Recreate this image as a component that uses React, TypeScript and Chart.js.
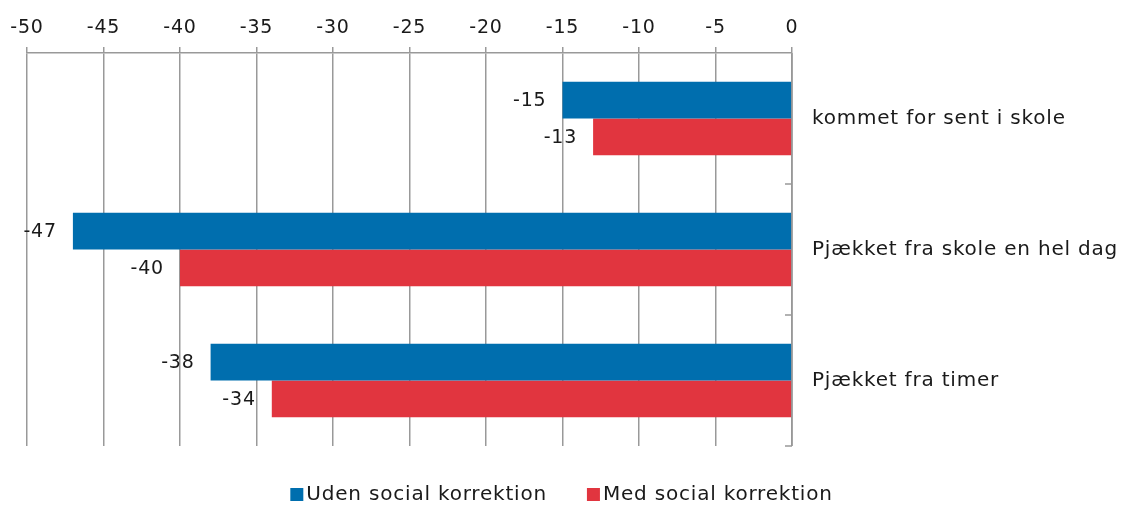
import React, { useEffect, useRef } from "react";
import { Chart, registerables } from "chart.js";

Chart.register(...registerables);

const categories = ["kommet for sent i skole", "Pjækket fra skole en hel dag", "Pjækket fra timer"];
const udenValues = [-15, -47, -38];
const medValues = [-13, -40, -34];
const seriesNames = ["Uden social korrektion", "Med social korrektion"];
const seriesColors = ["#006EAE", "#E1353F"];
const xMin = -50;
const xMax = 0;
const xStep = 5;

const FONT = "'DejaVu Sans', Verdana, sans-serif";
const SPACING = "0.8px";

const spacingPlugin = {
  id: "spacing",
  beforeUpdate(chart: any) {
    (chart.ctx as any).letterSpacing = SPACING;
  },
  beforeLayout(chart: any) {
    (chart.ctx as any).letterSpacing = SPACING;
  },
  beforeDraw(chart: any) {
    (chart.ctx as any).letterSpacing = SPACING;
  },
};

const valueLabels = {
  id: "valueLabels",
  afterDatasetsDraw(chart: any) {
    const ctx = chart.ctx;
    ctx.save();
    (ctx as any).letterSpacing = SPACING;
    ctx.font = `19px ${FONT}`;
    ctx.fillStyle = "#1a1a1a";
    ctx.textAlign = "right";
    ctx.textBaseline = "middle";
    chart.data.datasets.forEach((ds: any, di: number) => {
      const meta = chart.getDatasetMeta(di);
      meta.data.forEach((bar: any, i: number) => {
        ctx.fillText(String(ds.data[i]), bar.x - 16, bar.y + 1);
      });
    });
    ctx.restore();
  },
};

const catTicks = {
  id: "catTicks",
  afterDraw(chart: any) {
    const ctx = chart.ctx;
    const area = chart.chartArea;
    const n = categories.length;
    const h = (area.bottom - area.top) / n;
    ctx.save();
    ctx.strokeStyle = "#999999";
    ctx.lineWidth = 1.5;
    for (let i = 1; i <= n; i++) {
      const py = Math.round(area.top + h * i);
      ctx.beginPath();
      ctx.moveTo(area.right - 7, py);
      ctx.lineTo(area.right, py);
      ctx.stroke();
    }
    ctx.beginPath();
    ctx.moveTo(area.right, area.top);
    ctx.lineTo(area.right, area.bottom);
    ctx.stroke();
    ctx.restore();
  },
};

const customLegend = {
  id: "customLegend",
  afterDraw(chart: any) {
    const ctx = chart.ctx;
    ctx.save();
    (ctx as any).letterSpacing = SPACING;
    ctx.font = `20px ${FONT}`;
    ctx.textBaseline = "middle";
    ctx.textAlign = "left";
    const box = 13;
    const gap = 3;
    const itemGap = 40;
    const widths = chart.data.datasets.map((ds: any) => ctx.measureText(ds.label).width);
    const total = widths.reduce((a: number, w: number) => a + box + gap + w, 0) + itemGap * (widths.length - 1);
    let x = (chart.width - total) / 2;
    const cy = 495;
    chart.data.datasets.forEach((ds: any, i: number) => {
      ctx.fillStyle = ds.backgroundColor;
      ctx.fillRect(x, cy - 7, box, box);
      ctx.fillStyle = "#1a1a1a";
      ctx.fillText(ds.label, x + box + gap, cy);
      x += box + gap + widths[i] + itemGap;
    });
    ctx.restore();
  },
};

export default function App() {
  const ref = useRef<HTMLCanvasElement>(null);
  useEffect(() => {
    document.body.style.margin = "0";
    const chart = new Chart(ref.current!, {
      type: "bar",
      data: {
        labels: categories,
        datasets: [
          { label: seriesNames[0], data: udenValues, backgroundColor: seriesColors[0] },
          { label: seriesNames[1], data: medValues, backgroundColor: seriesColors[1] },
        ],
      },
      options: {
        indexAxis: "y",
        animation: false,
        responsive: false,
        maintainAspectRatio: false,
        layout: { padding: { left: 27, right: 0, top: 8, bottom: 59 } },
        datasets: { bar: { categoryPercentage: 0.56, barPercentage: 1 } },
        plugins: {
          legend: { display: false },
          tooltip: { enabled: false },
        },
        scales: {
          x: {
            position: "top",
            min: xMin,
            max: xMax,
            ticks: { stepSize: xStep, color: "#1a1a1a", font: { family: FONT, size: 19 }, padding: 8 },
            grid: { color: "#999999", lineWidth: 1.5, tickLength: 6 },
            border: { color: "#999999", width: 1.5 },
            afterFit(scale: any) {
              scale.height = 45;
            },
          },
          y: {
            position: "right",
            offset: true,
            grid: { display: false },
            border: { display: false },
            ticks: { color: "#1a1a1a", font: { family: FONT, size: 20 }, padding: 12 },
            afterFit(scale: any) {
              scale.width = 331;
            },
          },
        },
      },
      plugins: [spacingPlugin, valueLabels, catTicks, customLegend],
    });
    return () => chart.destroy();
  }, []);
  return (
    <div style={{ width: 1123, height: 505 }}>
      <canvas ref={ref} width={1123} height={505} />
    </div>
  );
}
